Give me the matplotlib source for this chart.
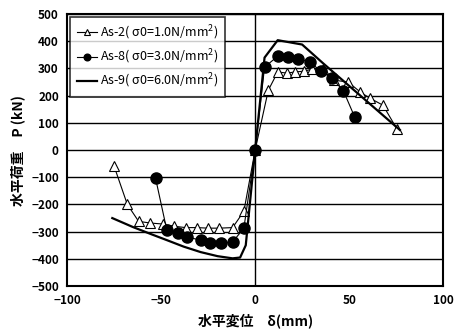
import matplotlib
matplotlib.use('Agg')
import matplotlib.pyplot as plt

plt.rcParams['font.family'] = ['Noto Sans CJK JP', 'DejaVu Sans']

# As-2 (sigma0 = 1.0)
as2_x = [-75, -68, -62, -56, -49, -43, -37, -31, -25, -19, -12, -6, 0,
         7, 12, 17, 21, 26, 30, 36, 42, 49.5, 56, 61, 68, 75.5]
as2_y = [-60, -200, -262, -268, -272, -280, -285, -285, -287, -287, -285, -225, 0,
         220, 287, 283, 287, 290, 297, 297, 257, 250, 213, 191, 165, 77]

# As-8 (sigma0 = 3.0)
as8_x = [-53, -47, -41, -36, -29, -24, -18, -12, -6, 0,
         5, 12, 17.5, 23, 29, 35, 41, 47, 53]
as8_y = [-103, -294, -305, -320, -331, -342, -342, -338, -287, 0,
         305, 345, 342, 335, 324, 290, 264, 217, 121]

# As-9 (sigma0 = 6.0)
as9_x = [-76, -65, -55, -47, -38, -29, -20, -12, -8, -5, 0, 5, 12, 25, 36, 77]
as9_y = [-250, -283, -310, -331, -355, -375, -390, -398, -395, -350, 0, 340, 404, 388, 320, 74]

labels = ['As-2( σ0=1.0N/mm$^{\\mathregular{2}}$)',
          'As-8( σ0=3.0N/mm$^{\\mathregular{2}}$)',
          'As-9( σ0=6.0N/mm$^{\\mathregular{2}}$)']

fig = plt.figure(figsize=(4.54, 3.35), dpi=100)
ax = fig.add_axes([0.148, 0.146, 0.828, 0.812])

ax.plot(as2_x, as2_y, color='black', lw=0.8, marker='^', ms=7,
        mfc='white', mec='black', mew=0.8, label=labels[0])
ax.plot(as8_x, as8_y, color='black', lw=0.8, marker='o', ms=8,
        mfc='black', mec='black', label=labels[1])
ax.plot(as9_x, as9_y, color='black', lw=1.6, label=labels[2])

ax.set_xlim(-100, 100)
ax.set_ylim(-500, 500)
ax.set_xticks([-100, -50, 0, 50, 100])
ax.set_yticks(range(-500, 501, 100))
ax.yaxis.grid(True, color='black', lw=1.0)
ax.axvline(0, color='black', lw=1.0)
ax.tick_params(length=0, labelsize=8.5, pad=6)
for t in ax.get_xticklabels() + ax.get_yticklabels():
    t.set_fontweight('bold')
for s in ax.spines.values():
    s.set_linewidth(1.5)

ax.set_xlabel('水平変位　δ(mm)', fontsize=10, fontweight='bold', labelpad=4)
ax.set_ylabel('水平荷重　P (kN)', fontsize=10, fontweight='bold', labelpad=4)

leg = ax.legend(loc='upper left', fontsize=9, frameon=True, fancybox=False,
                edgecolor='black', handlelength=1.6, handletextpad=0.3,
                borderaxespad=0.25, labelspacing=0.45, markerscale=0.6,
                borderpad=0.5)
leg.get_frame().set_linewidth(1.2)

fig.savefig('out.png', dpi=100)
